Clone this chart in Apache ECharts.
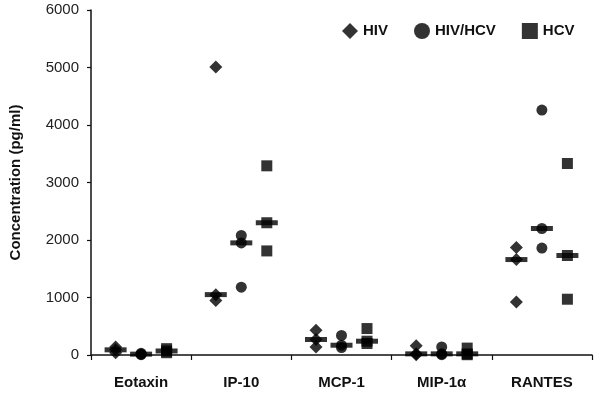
<!DOCTYPE html>
<html>
<head>
<meta charset="utf-8">
<script src="https://cdn.jsdelivr.net/npm/echarts@6/dist/echarts.min.js"></script>
<style>html,body{margin:0;padding:0;background:#fff}#c{width:600px;height:396px}</style>
</head>
<body>
<div id="c"></div>
<script>
// ---- data ----
var categories = ['Eotaxin', 'IP-10', 'MCP-1', 'MIP-1\u03b1', 'RANTES'];
var yTicks = [0, 1000, 2000, 3000, 4000, 5000, 6000];

// individual measurements per category
var hivPoints   = [[140, 90, 40], [5010, 1050, 950], [430, 270, 140], [160, 20, 5], [1870, 1660, 920]];
var coinfPoints = [[30, 15, 5], [2080, 1950, 1180], [340, 170, 130], [140, 20, 5], [4260, 2200, 1860]];
var hcvPoints   = [[110, 70, 40], [3290, 2300, 1810], [460, 240, 200], [120, 20, 5], [3330, 1730, 970]];

// medians per category
var hivMedian   = [90, 1050, 270, 20, 1660];
var coinfMedian = [15, 1950, 170, 20, 2200];
var hcvMedian   = [70, 2300, 240, 20, 1730];

var groupNames = ['HIV', 'HIV/HCV', 'HCV'];

// ---- build chart ----
function pts(arr) {
  var out = [];
  arr.forEach(function (vals, i) { vals.forEach(function (v) { out.push([i, v]); }); });
  return out;
}
function med(arr) { return arr.map(function (v, i) { return [i, v]; }); }

var FONT = 'Liberation Sans, Arial, sans-serif';
var offsets = [-25.5, 0, 25.5];
var symbols = ['diamond', 'circle', 'rect'];
var sizes = [13, 11, 11];
var allPts = [hivPoints, coinfPoints, hcvPoints];
var allMed = [hivMedian, coinfMedian, hcvMedian];

var series = [];
for (var g = 0; g < 3; g++) {
  series.push({
    name: groupNames[g], type: 'scatter', symbol: symbols[g], symbolSize: sizes[g],
    symbolOffset: [offsets[g], 0], itemStyle: { color: '#000' },
    data: pts(allPts[g]), z: 3
  });
  series.push({
    name: groupNames[g] + ' median', type: 'scatter', symbol: 'rect', symbolSize: [22, 5],
    symbolOffset: [offsets[g], 0], itemStyle: { color: '#000' },
    data: med(allMed[g]), z: 4
  });
}

var chart = echarts.init(document.getElementById('c'), null, { renderer: 'canvas' });
chart.setOption({
  animation: false,
  backgroundColor: '#fff',
  grid: { left: 84, right: 8, top: 10, bottom: 41 },
  legend: {
    data: groupNames.map(function (n, i) { return { name: n, icon: symbols[i] }; }),
    left: 337, top: 18, itemWidth: 16, itemHeight: 16, itemGap: 26,
    textStyle: { fontFamily: FONT, fontWeight: 'bold', fontSize: 15, color: '#111' }
  },
  xAxis: {
    type: 'category', data: categories, boundaryGap: true,
    axisLine: { lineStyle: { color: '#111', width: 1.5 } },
    axisTick: { show: true, length: 5, lineStyle: { color: '#111', width: 1.2 } },
    axisLabel: { margin: 20, fontFamily: FONT, fontWeight: 'bold', fontSize: 15, color: '#111' },
    splitLine: { show: false }
  },
  yAxis: {
    type: 'value', min: yTicks[0], max: yTicks[yTicks.length - 1], interval: 1000,
    name: 'Concentration (pg/ml)', nameLocation: 'middle', nameGap: 68, nameRotate: 90,
    nameTextStyle: { fontFamily: FONT, fontWeight: 'bold', fontSize: 15, color: '#111' },
    axisLine: { show: true, lineStyle: { color: '#111', width: 1.5 } },
    axisTick: { show: true, length: 4, lineStyle: { color: '#111', width: 1.2 } },
    axisLabel: { margin: 12, fontFamily: FONT, fontSize: 15, color: '#222',
      formatter: function (v) { return String(v); } },
    splitLine: { show: false }
  },
  series: series
});
</script>
</body>
</html>
